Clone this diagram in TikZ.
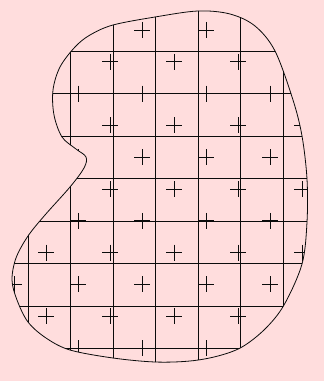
\documentclass[tikz,border=0pt]{standalone}
\usepackage{xcolor}
\usepackage{tikz}
\definecolor{bgpink}{HTML}{FFDDDD}
\definecolor{ink}{HTML}{0B0B0B}

\begin{document}
\begin{tikzpicture}[x=0.75pt,y=-0.75pt]
  \useasboundingbox (0,0) rectangle (324,381);
  \fill[bgpink] (0,0) rectangle (324,381);
  % outline of the region
  \def\blob{plot[smooth cycle,tension=0.55] coordinates {
    (113,25) (155,17) (198,11) (230,14) (255,26) (275,51) (293,100)
    (302,136) (307,179) (307,222) (302,264) (284,305) (265,329) (242,347)
    (218,356) (190,361) (155,362) (113,358) (70,350) (46,338) (28,322) (17,300)
    (12,280) (16,258) (28,236) (45,215) (70,187) (84,168) (86,157)
    (76,149) (62,137) (54,115) (53,90) (60,67) (75,47) (90,35)}}
  \begin{scope}
    \clip \blob;
    \foreach \xx in {0,...,7} \draw[ink,line width=0.45pt] (28+42.5*\xx-42.5,0) -- (28+42.5*\xx-42.5,381);
    \foreach \yy in {0,...,8} \draw[ink,line width=0.45pt] (0,8.5+42.5*\yy) -- (324,8.5+42.5*\yy);
    \foreach \rr in {0,...,10}
      \foreach \kk in {0,...,4} {
        \pgfmathsetmacro\px{14+32*mod(\rr,2)+64*\kk}
        \pgfmathsetmacro\py{30+31.8*\rr}
        \draw[ink,line width=0.5pt] (\px-8,\py) -- (\px+8,\py) (\px,\py-8) -- (\px,\py+8);
      }
  \end{scope}
  \draw[ink,line width=0.6pt] \blob;
\end{tikzpicture}
\end{document}
